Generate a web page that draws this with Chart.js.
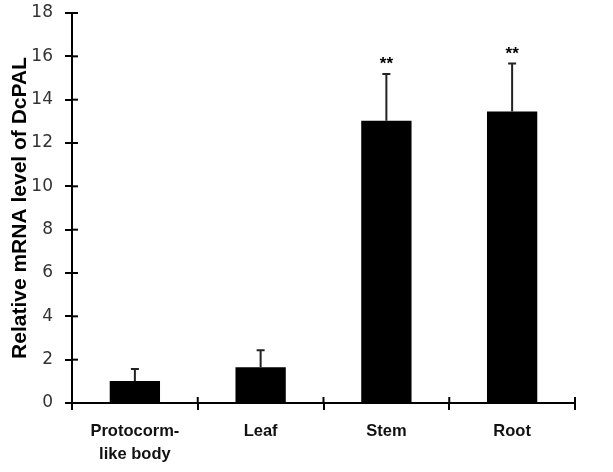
<!DOCTYPE html>
<html>
<head>
<meta charset="utf-8">
<script src="https://cdn.jsdelivr.net/npm/chart.js@4.4.1/dist/chart.umd.min.js"></script>
<style>
  html, body { margin: 0; padding: 0; background: #fff; }
  #wrap { width: 613px; height: 472px; }
</style>
</head>
<body>
<div id="wrap"><canvas id="expChart" width="613" height="472"></canvas></div>
<script>
// datos
const tejidos = [['Protocorm-', 'like body'], 'Leaf', 'Stem', 'Root'];
const expresion = [1.02, 1.65, 13.03, 13.45];
const errores = [0.55, 0.78, 2.15, 2.22];
const marcas = ['', '', '**', '**'];
const yTicks = [0, 2, 4, 6, 8, 10, 12, 14, 16, 18];

// barras de error (solo hacia arriba) y asteriscos
const errorBarPlugin = {
    id: 'errorBars',
    afterDatasetsDraw(chart) {
        const ctx = chart.ctx;
        const meta = chart.getDatasetMeta(0);
        const y = chart.scales.y;
        ctx.save();
        ctx.strokeStyle = '#222';
        ctx.lineWidth = 2;
        meta.data.forEach((bar, i) => {
            const yTop = y.getPixelForValue(expresion[i] + errores[i]);
            ctx.beginPath();
            ctx.moveTo(bar.x, bar.y);
            ctx.lineTo(bar.x, yTop);
            ctx.moveTo(bar.x - 4, yTop);
            ctx.lineTo(bar.x + 4, yTop);
            ctx.stroke();
            if (marcas[i]) {
                ctx.fillStyle = '#000';
                ctx.font = 'bold 17px "Liberation Sans", Arial, sans-serif';
                ctx.textAlign = 'center';
                ctx.textBaseline = 'bottom';
                ctx.fillText(marcas[i], bar.x, yTop - 1);
            }
        });
        // marcas del eje Y que cruzan hacia dentro
        ctx.strokeStyle = '#000';
        ctx.lineWidth = 2;
        const xAxis = chart.chartArea.left;
        yTicks.forEach(v => {
            const py = y.getPixelForValue(v);
            ctx.beginPath();
            ctx.moveTo(xAxis, py);
            ctx.lineTo(xAxis + 6, py);
            ctx.stroke();
        });
        // marcas del eje X hacia arriba
        const bottom = chart.chartArea.bottom;
        for (let i = 0; i <= tejidos.length; i++) {
            const px = chart.chartArea.left + i * (chart.chartArea.right - chart.chartArea.left) / tejidos.length;
            ctx.beginPath();
            ctx.moveTo(px, bottom);
            ctx.lineTo(px, bottom - 6);
            ctx.stroke();
        }
        ctx.restore();
    }
};

const ctx = document.getElementById('expChart').getContext('2d');
const expChart = new Chart(ctx, {
    type: 'bar',
    data: {
        labels: tejidos,
        datasets: [{
            data: expresion,
            backgroundColor: '#000',
            borderWidth: 0,
            categoryPercentage: 1.0,
            barPercentage: 0.4
        }]
    },
    options: {
        responsive: false,
        animation: false,
        devicePixelRatio: 1,
        layout: { padding: { left: 0, right: 38, top: 13, bottom: 0 } },
        plugins: {
            legend: { display: false },
            tooltip: { enabled: false }
        },
        scales: {
            x: {
                grid: {
                    offset: true,
                    drawOnChartArea: false,
                    drawTicks: true,
                    tickLength: 7,
                    color: '#000',
                    lineWidth: 2
                },
                border: { color: '#000', width: 2 },
                ticks: {
                    color: '#111',
                    padding: 9,
                    maxRotation: 0,
                    autoSkip: false,
                    font: { family: '"Liberation Sans", Arial, sans-serif', size: 16.5, weight: 'bold', lineHeight: 1.45 }
                },
                afterFit(scale) {
                    scale.height = 69;
                    scale.paddingLeft = 0;
                    scale.paddingRight = 0;
                }
            },
            y: {
                min: 0,
                max: 18,
                afterBuildTicks(scale) { scale.ticks = yTicks.map(v => ({ value: v })); },
                grid: {
                    drawOnChartArea: false,
                    drawTicks: true,
                    tickLength: 7,
                    color: '#000',
                    lineWidth: 2
                },
                border: { color: '#000', width: 2 },
                ticks: {
                    color: '#333',
                    padding: 12,
                    font: { family: '"DejaVu Sans", sans-serif', size: 17 }
                },
                title: {
                    display: true,
                    text: 'Relative mRNA level of DcPAL',
                    color: '#000',
                    padding: { top: 8, bottom: 0 },
                    font: { family: '"Liberation Sans", Arial, sans-serif', size: 21, weight: 'bold' }
                },
                afterFit(scale) {
                    scale.width = 72;
                    scale.paddingTop = 0;
                    scale.paddingBottom = 0;
                }
            }
        }
    },
    plugins: [errorBarPlugin]
});
</script>
</body>
</html>
